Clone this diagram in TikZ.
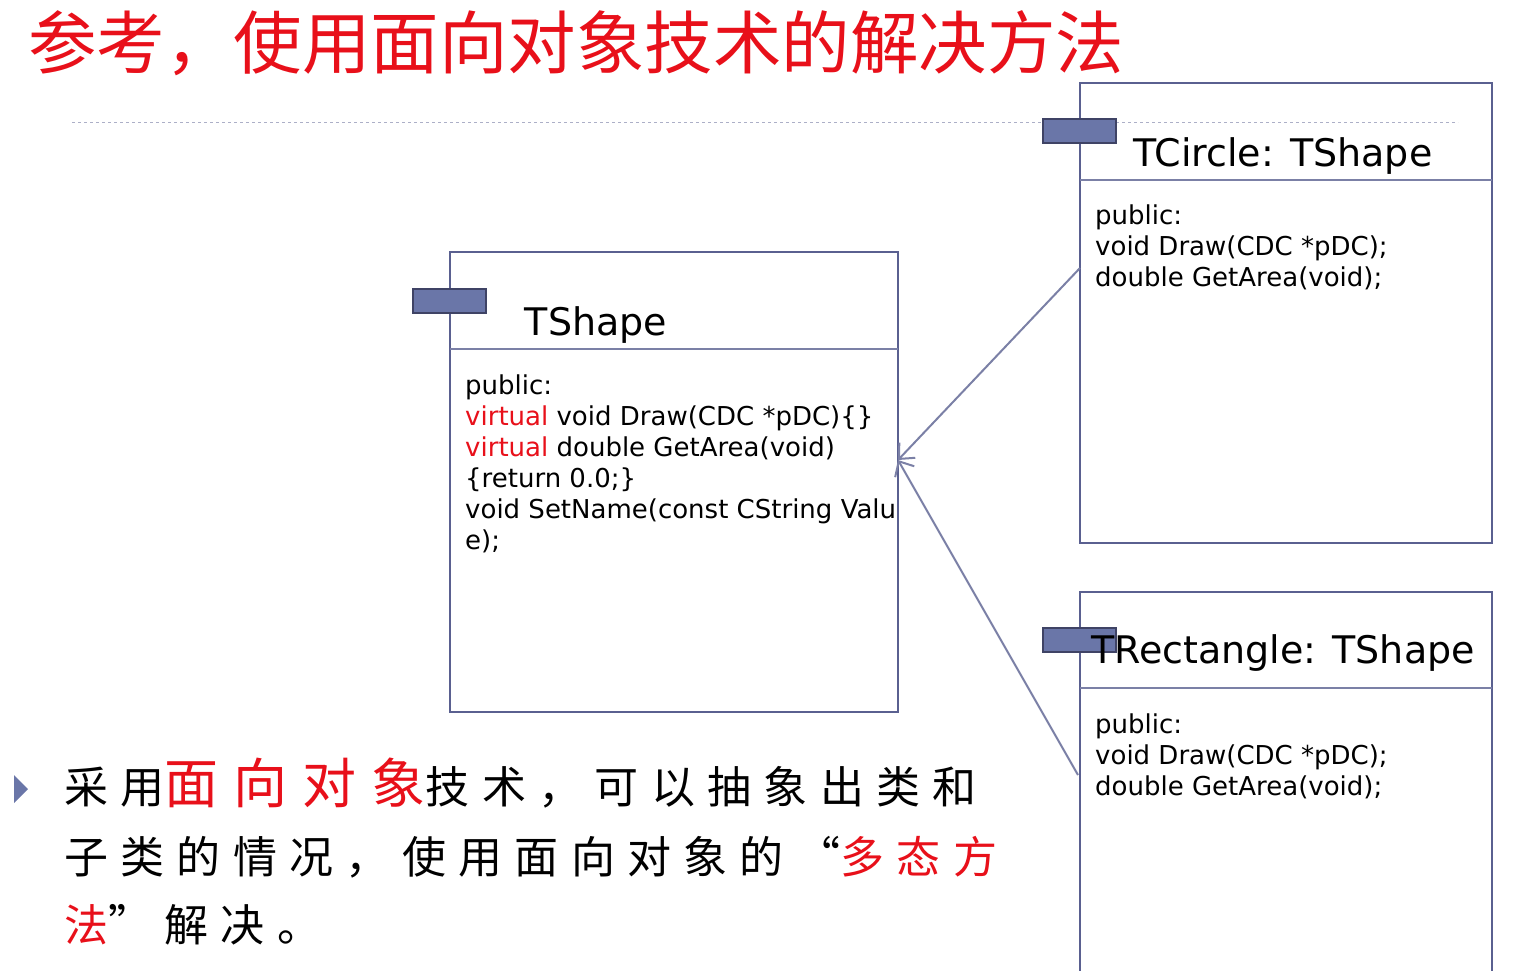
\documentclass[tikz,border=0pt]{standalone}
\usepackage{fontspec}
\setmainfont{DejaVu Sans}
\newfontfamily\cjk{Noto Sans CJK SC}
\newfontfamily\cjksp[LetterSpace=28]{Noto Sans CJK SC}
\definecolor{tred}{HTML}{E8101A}
\definecolor{boxc}{HTML}{5A6090}
\definecolor{tabc}{HTML}{6A76A8}
\tikzset{
 cls/.style={draw=boxc,line width=2.5pt},
 tab/.style={draw=boxc!70!black,fill=tabc,line width=1.5pt},
 sep/.style={draw=boxc!80,line width=2pt},
 ttl/.style={font=\fontsize{38}{40}\selectfont,anchor=base},
 body/.style={font=\fontsize{26}{31}\selectfont,anchor=north west,align=left,inner sep=0pt},
 inh/.style={draw=boxc!80,line width=2pt,-{Straight Barb[length=12pt,width=22pt]}},
 bul/.style={font=\cjksp\fontsize{44}{70}\selectfont,anchor=base west,inner sep=0pt}
}
\usetikzlibrary{arrows.meta}
\begin{document}
\begin{tikzpicture}[x=1pt,y=-1pt]
\useasboundingbox (0,0) rectangle (1520,970);
\node[font=\cjk\fontsize{68.5}{70}\selectfont,text=tred,anchor=base west,inner sep=0pt] (title) at (28,68) {参考，使用面向对象技术的解决方法};
\draw[boxc!50,dashed,line width=1pt] (72,122) -- (1458,122);
% TShape
\draw[cls] (450,252) rectangle (898,712);
\node[coordinate] (sr) at (898,460) {};
\draw[sep] (450,349) -- (898,349);
\draw[tab] (413,289) rectangle (486,313);
\node[ttl] (ts) at (596,335) {TShape};
\node[body] (tsb) at (465,375) {public:\\
\textcolor{tred}{virtual} void Draw(CDC *pDC)\{\}\\
\textcolor{tred}{virtual} double GetArea(void)\\
\{return 0.0;\}\\
void SetName(const CString Valu\\
e);};
% TCircle
\draw[cls] (1080,83) rectangle (1492,543);
\draw[sep] (1080,180) -- (1492,180);
\draw[tab] (1043,119) rectangle (1116,143);
\node[ttl] (tc) at (1283,166) {TCircle: TShape};
\node[body] (tcb) at (1095,205) {public:\\void Draw(CDC *pDC);\\double GetArea(void);};
\node[coordinate] (cl) at (1080,268) {};
% TRectangle
\draw[cls] (1080,975) -- (1080,592) -- (1492,592) -- (1492,975);
\draw[sep] (1080,688) -- (1492,688);
\draw[tab] (1043,628) rectangle (1116,652);
\node[ttl] (tr) at (1283,663) {TRectangle: TShape};
\node[body] (trb) at (1095,714) {public:\\void Draw(CDC *pDC);\\double GetArea(void);};
\node[coordinate] (rl) at (1078,775) {};
\draw[inh] (cl) -- (sr);
\draw[inh] (rl) -- (sr);
% bullet
\fill[tabc] (14,775) -- (28,789) -- (14,803) -- cycle;
\node[bul] (l1) at (64,803) {采用\textcolor{tred}{\fontsize{54}{60}\selectfont 面向对象}技术，可以抽象出类和};
\node[bul] (l2) at (64,873) {子类的情况，使用面向对象的“\textcolor{tred}{多态方}};
\node[bul] (l3) at (64,941) {\textcolor{tred}{法}”解决。};
\end{tikzpicture}
\end{document}
